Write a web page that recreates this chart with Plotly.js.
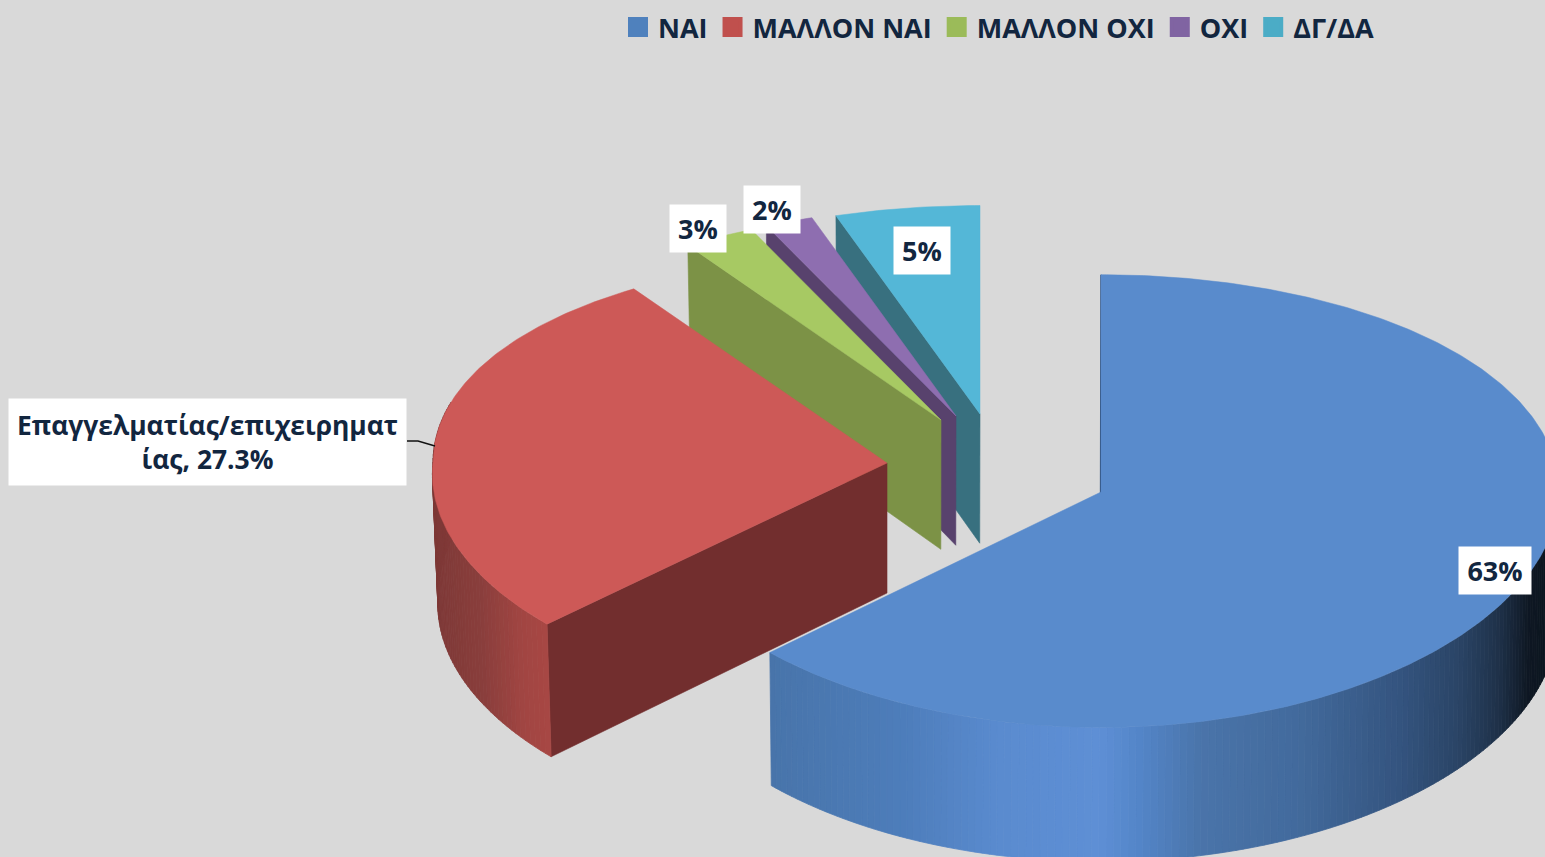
<!DOCTYPE html>
<html><head><meta charset="utf-8">
<script src="https://cdn.plot.ly/plotly-3.0.1.min.js"></script>
<style>html,body{margin:0;padding:0;background:#d9d9d9;overflow:hidden}#c{width:1545px;height:857px}</style>
</head><body><div id="c"></div>
<script>
// ---- data ----
const categories = ['ΝΑΙ','ΜΑΛΛΟΝ ΝΑΙ','ΜΑΛΛΟΝ ΟΧΙ','ΟΧΙ','ΔΓ/ΔΑ'];
const values = [63, 27.3, 3, 2, 5];
const valueLabels = ['63%','Επαγγελματίας/επιχειρηματ<br>ίας, 27.3%','3%','2%','5%'];
// ---- style ----
const legendColors = ['#4f81bd','#c0504d','#9bbb59','#8064a2','#4bacc6'];
const topColors = ['#598bcc','#cd5957','#a7c963','#8e6eb0','#54b7d7'];
const cutColors = ['#2f4f78','#722e2e','#7c9246','#58426d','#38707f'];
const apexX = [1101,887,941,956,980];
const apexY = [492,463,420,416,414];
const radX = [458,454,454,454,454];
const radY = [226,222,221,221,221];
const persp = [0.04,0.07,0.06,0.06,0.06];
const perspX = [0,0.05,0,0,0];
const viewAngles = [0,226.3,326.1,335.3,341.5,360]; // projected slice boundaries
const labelBox = [[1459,1531,547,594],[9,406,399,485],[670,726,205,252],[744,800,186,233],[894,950,227,274]];
const wallStops = [
  [[770,'#4874aa'],[900,'#4d7dba'],[1000,'#5a8bcf'],[1100,'#5e8fd5'],[1140,'#5385c8'],[1200,'#4a74aa'],[1300,'#426a9c'],[1400,'#34547f'],[1460,'#2a4465'],[1500,'#1e3048'],[1530,'#0e1722'],[1560,'#0c1620']],
  [[430,'#7d3836'],[480,'#8a3e3c'],[520,'#a14542'],[552,'#a94744']]
];
const DEPTH=130;
const navy='#12263f', FONT='"Open Sans","Noto Sans",sans-serif';

const total=values.reduce((a,b)=>a+b,0);
let cum=0;
const bounds=[0].concat(values.map(v=>{cum+=v;return cum*360/total;}));
function view(deg){
  for(let j=1;j<bounds.length;j++){
    if(deg<=bounds[j]+1e-9){
      const f=(deg-bounds[j-1])/(bounds[j]-bounds[j-1]);
      return viewAngles[j-1]+f*(viewAngles[j]-viewAngles[j-1]);
    }
  }
  return deg;
}
function topPt(i,deg){
  const t=view(deg)*Math.PI/180, u=Math.sin(t), v=-Math.cos(t), d=1-persp[i]*v;
  const dx=1-perspX[i]*Math.max(v,0);
  return [apexX[i]+radX[i]*u/dx, apexY[i]+radY[i]*v/d];
}
function basePt(p){
  const x=p[0], y=p[1];
  const nx = x<887 ? x+0.012*(887-x) : x-0.003*(x-887);
  return [nx, y+DEPTH+0.016*(y-463)];
}
function hex(c){return [1,3,5].map(k=>parseInt(c.substr(k,2),16));}
function grad(stops,x){
  if(x<=stops[0][0])return stops[0][1];
  for(let j=1;j<stops.length;j++){
    if(x<=stops[j][0]){
      const f=(x-stops[j-1][0])/(stops[j][0]-stops[j-1][0]);
      const a=hex(stops[j-1][1]),b=hex(stops[j][1]);
      return 'rgb('+a.map((q,n)=>Math.round(q+(b[n]-q)*f)).join(',')+')';
    }
  }
  return stops[stops.length-1][1];
}
function poly(pts,color,lw){
  return {type:'scatter',mode:'lines',x:pts.map(p=>p[0]).concat(pts[0][0]),y:pts.map(p=>p[1]).concat(pts[0][1]),
    fill:'toself',fillcolor:color,line:{color:color,width:lw===undefined?0.6:lw},showlegend:false,hoverinfo:'skip'};
}

const traces=[];
for(const i of [4,3,2,1,0]){
  const s=bounds[i], e=bounds[i+1];
  // start-edge cut face
  const o=topPt(i,s), a=[apexX[i],apexY[i]];
  traces.push(poly([o,a,basePt(a),basePt(o)],cutColors[i],i===0?1.5:0.6));
  // outer wall, front slices only
  if(i<2){
    const from=i===0?88:s, to=i===0?e:285, n=i===0?150:60;
    for(let k=0;k<n;k++){
      const d0=from+(to-from)*k/n, d1=from+(to-from)*(k+1)/n;
      const p0=topPt(i,d0),p1=topPt(i,d1);
      traces.push(poly([p0,p1,basePt(p1),basePt(p0)],grad(wallStops[i],(p0[0]+p1[0])/2),0.8));
    }
  }
  // top face
  const pts=[a];
  const n=Math.max(8,Math.round((e-s)*1.5));
  for(let k=0;k<=n;k++)pts.push(topPt(i,s+(e-s)*k/n));
  traces.push(poly(pts,topColors[i],0.5));
}
// leader line of the labelled slice
traces.push({type:'scatter',mode:'lines',x:[407,418,435],y:[441,441,446],line:{color:'#111',width:1.5},showlegend:false,hoverinfo:'skip'});
// legend entries
categories.forEach((c,i)=>traces.push({type:'scatter',mode:'markers',name:c,x:[null],y:[null],
  marker:{symbol:'square',size:16,color:legendColors[i],line:{color:legendColors[i],width:4}},hoverinfo:'skip'}));

const annotations=values.map((v,i)=>{
  const b=labelBox[i];
  return {xref:'x',yref:'y',x:(b[0]+b[1])/2,y:(b[2]+b[3])/2,text:valueLabels[i],showarrow:false,
    width:b[1]-b[0],height:b[3]-b[2],bgcolor:'#ffffff',borderpad:0,align:'center',valign:'middle',
    font:{family:FONT,size:i===1?26.4:27,color:navy,weight:700}};
});

const layout={
  width:1545,height:857,margin:{l:0,r:0,t:0,b:0,pad:0},
  paper_bgcolor:'#d9d9d9',plot_bgcolor:'#d9d9d9',showlegend:true,
  xaxis:{visible:false,range:[0,1545],fixedrange:true},
  yaxis:{visible:false,range:[857,0],fixedrange:true},
  legend:{orientation:'h',x:618/1545,xanchor:'left',y:1-3/857,yanchor:'top',bgcolor:'rgba(0,0,0,0)',
    font:{family:FONT,size:27,color:navy,weight:700},itemclick:false,itemdoubleclick:false,traceorder:'normal'},
  annotations:annotations
};
Plotly.newPlot('c',traces,layout,{displayModeBar:false,staticPlot:true});
</script></body></html>
